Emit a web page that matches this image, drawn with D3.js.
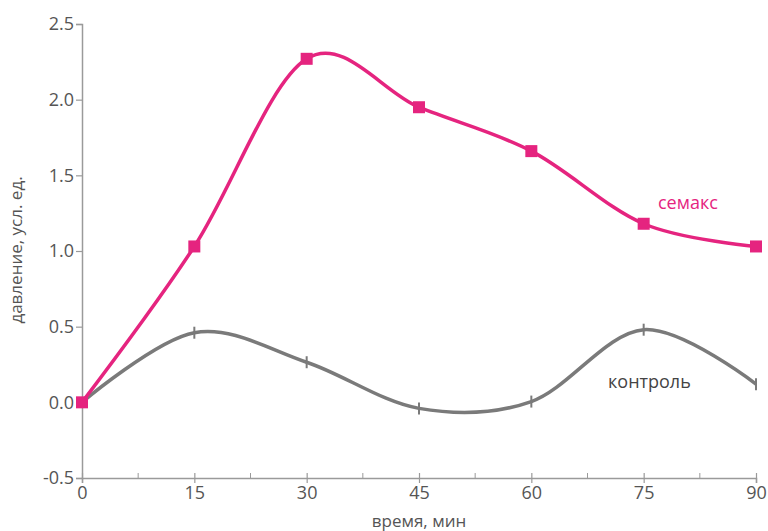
<!DOCTYPE html>
<html>
<head>
<meta charset="utf-8">
<script src="https://cdn.jsdelivr.net/npm/d3@7"></script>
<style>
  body { margin: 0; background: #fff; }
  text { font-family: "Open Sans", sans-serif; }
</style>
</head>
<body>
<script>
var minutes = [0, 15, 30, 45, 60, 75, 90];
var semax = [0, 1.03, 2.27, 1.95, 1.66, 1.18, 1.03];
var control = [0, 0.46, 0.265, -0.04, 0.005, 0.48, 0.12];
var yTicks = [-0.5, 0, 0.5, 1.0, 1.5, 2.0, 2.5];
var xTicks = [0, 15, 30, 45, 60, 75, 90];
var xMinor = [7.5, 22.5, 37.5, 52.5, 67.5, 82.5];

const WIDTH = 768;
const HEIGHT = 531;
const PINK = '#e5247f';
const GREY = '#7a7a7a';
const AXIS = '#9a9a9a';
const TEXT = '#555';

var svg = d3.select('body').append('svg')
    .attr('width', WIDTH)
    .attr('height', HEIGHT);

var xScale = d3.scaleLinear()
    .domain([0, 90])
    .range([82, 756]);

var yScale = d3.scaleLinear()
    .domain([-0.5, 2.5])
    .range([478, 24]);

// y axis, hyphen instead of unicode minus like the original
var yAxis = svg.append('g')
    .attr('transform', 'translate(' + xScale(0) + ',0)')
    .call(d3.axisLeft(yScale)
        .tickValues(yTicks)
        .tickFormat(function(d) { return d.toFixed(1); })
        .tickSizeOuter(0)
        .tickSize(6)
        .tickPadding(2));

// x axis
var xAxis = svg.append('g')
    .attr('transform', 'translate(0,' + yScale(-0.5) + ')')
    .call(d3.axisBottom(xScale)
        .tickValues(xTicks)
        .tickFormat(d3.format('d'))
        .tickSizeOuter(0)
        .tickSize(5)
        .tickPadding(3));

xAxis.selectAll('.tick line').attr('y1', -5);

xAxis.selectAll('.minor')
    .data(xMinor)
    .enter()
    .append('line')
    .attr('x1', function(d) { return xScale(d); })
    .attr('x2', function(d) { return xScale(d); })
    .attr('y1', 0)
    .attr('y2', -5)
    .attr('stroke', AXIS);

[xAxis, yAxis].forEach(function(ax) {
    ax.select('.domain').attr('stroke', AXIS).attr('stroke-width', 1.5);
    ax.selectAll('.tick line').attr('stroke', AXIS).attr('stroke-width', 1.2);
    ax.selectAll('.tick text')
        .attr('fill', TEXT)
        .style('font-size', '18px')
        .style('font-family', '"Open Sans", sans-serif');
});

// axis titles
svg.append('text')
    .attr('x', xScale(45))
    .attr('y', 527)
    .attr('text-anchor', 'middle')
    .attr('fill', TEXT)
    .style('font-size', '17px')
    .text('время, мин');

svg.append('text')
    .attr('transform', 'translate(22,' + 250 + ') rotate(-90)')
    .attr('text-anchor', 'middle')
    .attr('fill', TEXT)
    .style('font-size', '17px')
    .text('давление, усл. ед.');

var line = d3.line()
    .x(function(d) { return xScale(d[0]); })
    .y(function(d) { return yScale(d[1]); })
    .curve(d3.curveCardinal.tension(0));

var controlPts = d3.zip(minutes, control);
var semaxPts = d3.zip(minutes, semax);

svg.append('path')
    .datum(controlPts)
    .attr('d', line)
    .attr('fill', 'none')
    .attr('stroke', GREY)
    .attr('stroke-width', 3.5);

svg.selectAll('.cmark')
    .data(controlPts.slice(1))
    .enter()
    .append('line')
    .attr('x1', function(d) { return xScale(d[0]); })
    .attr('x2', function(d) { return xScale(d[0]); })
    .attr('y1', function(d) { return yScale(d[1]) - 6; })
    .attr('y2', function(d) { return yScale(d[1]) + 6; })
    .attr('stroke', GREY)
    .attr('stroke-width', 2);

svg.append('path')
    .datum(semaxPts)
    .attr('d', line)
    .attr('fill', 'none')
    .attr('stroke', PINK)
    .attr('stroke-width', 3.5);

svg.selectAll('.smark')
    .data(semaxPts)
    .enter()
    .append('rect')
    .attr('x', function(d) { return xScale(d[0]) - 6; })
    .attr('y', function(d) { return yScale(d[1]) - 6; })
    .attr('width', 12)
    .attr('height', 12)
    .attr('fill', PINK);

// series labels
svg.append('text')
    .attr('x', 658)
    .attr('y', 209)
    .attr('fill', PINK)
    .style('font-size', '18px')
    .text('семакс');

svg.append('text')
    .attr('x', 608)
    .attr('y', 388)
    .attr('fill', '#444')
    .style('font-size', '18px')
    .text('контроль');
</script>
</body>
</html>
